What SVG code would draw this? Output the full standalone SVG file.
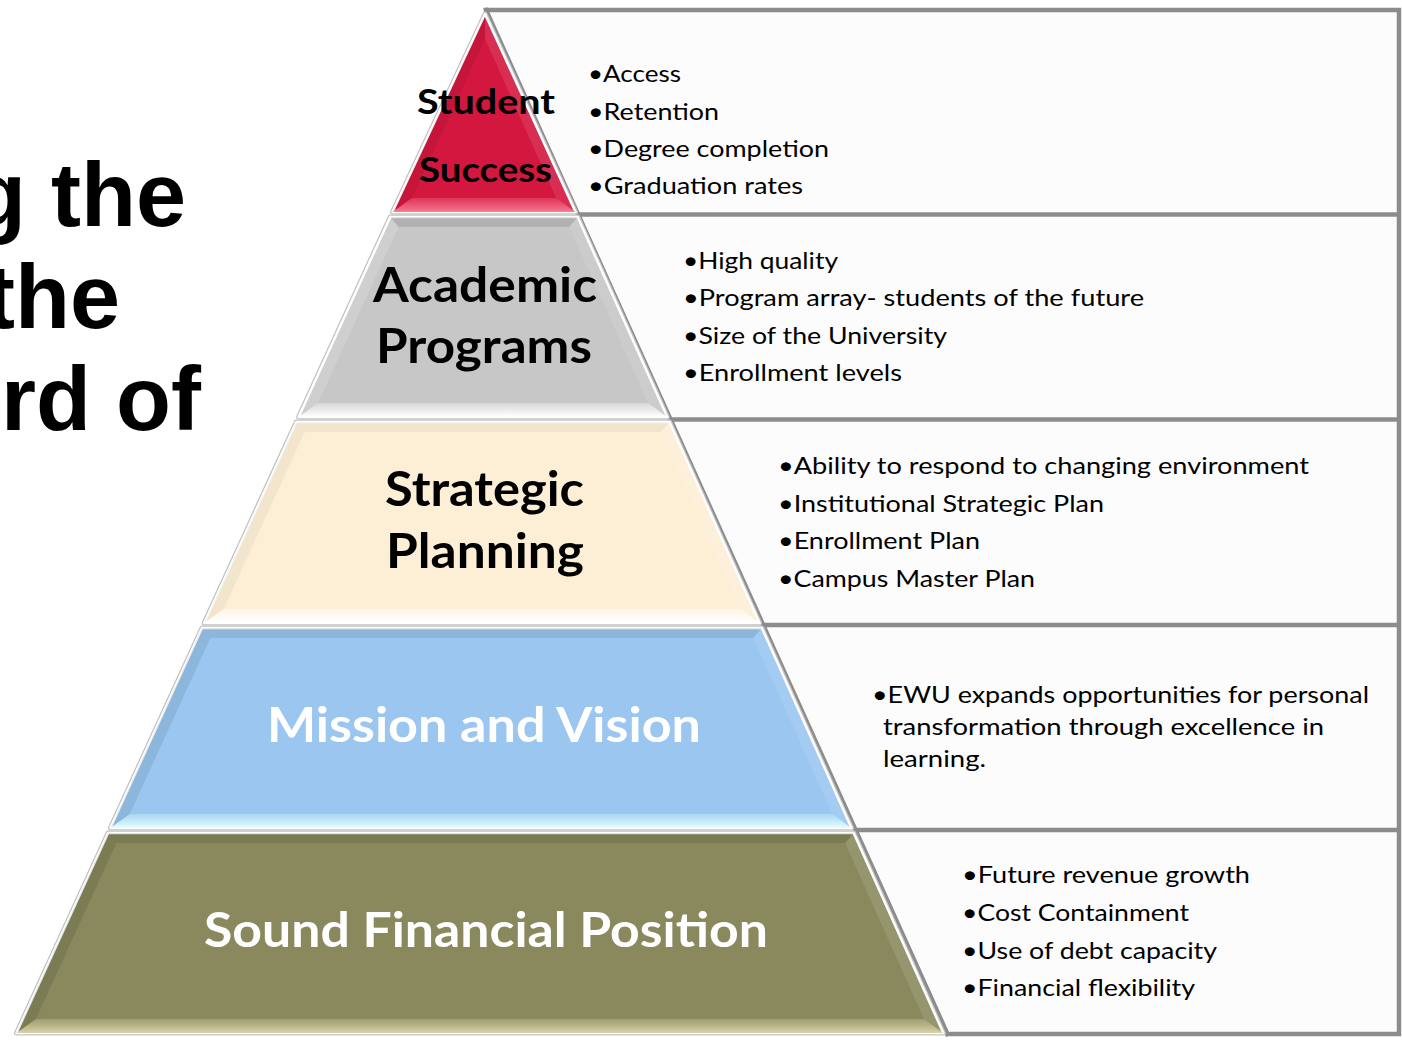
<svg xmlns="http://www.w3.org/2000/svg" width="1402" height="1042" viewBox="0 0 1402 1042">
<defs>
<style>
.edge{fill:none;stroke:#c2c2c2;stroke-width:5;stroke-linejoin:round}
.face{stroke:#ffffff;stroke-width:2.5;stroke-linejoin:round}
.bTop{fill:#000;fill-opacity:0.11}
.bLeft{fill:#000;fill-opacity:0.06}
.bRight{fill:#fff;fill-opacity:0.10}
.line{stroke:#8c8c8c;stroke-width:4.5;fill:none;stroke-linecap:square}
.bullet{font-family:Lato,"Open Sans","Liberation Sans",sans-serif;font-size:24px;fill:#000}
.label{font-family:Lato,"Open Sans","Liberation Sans",sans-serif;font-weight:bold;text-anchor:middle}
.title{font-family:"Liberation Sans",Arial,sans-serif;font-weight:bold;font-size:90px;text-anchor:end;fill:#000}
</style>
<linearGradient id="g1" x1="0" y1="0" x2="0" y2="1"><stop offset="0" stop-color="#f8768f" stop-opacity="0.3"/><stop offset="1" stop-color="#f8768f"/></linearGradient>
<linearGradient id="g2" x1="0" y1="0" x2="0" y2="1"><stop offset="0" stop-color="#ffffff" stop-opacity="0.3"/><stop offset="1" stop-color="#ffffff"/></linearGradient>
<linearGradient id="g3" x1="0" y1="0" x2="0" y2="1"><stop offset="0" stop-color="#ffffff" stop-opacity="0.4"/><stop offset="1" stop-color="#ffffff"/></linearGradient>
<linearGradient id="g4" x1="0" y1="0" x2="0" y2="1"><stop offset="0" stop-color="#d8fbff" stop-opacity="0.3"/><stop offset="1" stop-color="#e2ffff"/></linearGradient>
<linearGradient id="g5" x1="0" y1="0" x2="0" y2="1"><stop offset="0" stop-color="#cfcba0" stop-opacity="0.3"/><stop offset="1" stop-color="#d6d2a6"/></linearGradient>
</defs>
<rect width="1402" height="1042" fill="#ffffff"/>

<g id="title">
<text class="title" x="186" y="226">g the</text>
<text class="title" x="120" y="328">the</text>
<text class="title" x="201" y="430">rd of</text>
</g>

<g id="connectors">
<polygon points="486,9 1400,9 1400,1036 948,1036" fill="#fcfcfc"/>
<path class="line" d="M486,10 H1399 V1034 M578,214.5 H1399 M670.6,419.5 H1399 M763.2,625 H1399 M855.6,830 H1399 M947.5,1034 H1399 M486,10 L947.5,1034"/>
</g>

<g id="tier-student-success">
<polygon class="edge" points="485,14 575.5,212 392.5,212"/>
<polygon class="face" fill="#d3173f" points="485,14 575.5,212 392.5,212"/>
<polygon class="bLeft" points="485,14 392.5,212 411.9,198 485,39"/>
<polygon class="bRight" points="485,14 575.5,212 556.2,198 485,39"/>
<polygon fill="url(#g1)" points="392.5,212 575.5,212 556.2,198 411.9,198"/>
<text class="label" x="486" y="114" font-size="35" fill="#000" textLength="138" lengthAdjust="spacingAndGlyphs">Student</text>
<text class="label" x="485.5" y="182" font-size="35" fill="#000" textLength="133" lengthAdjust="spacingAndGlyphs">Success</text>
</g>

<g id="tier-academic-programs">
<polygon class="edge" points="390.2,217 577.7,217 667.3,417 298.6,417"/>
<polygon class="face" fill="#c7c7c7" points="390.2,217 577.7,217 667.3,417 298.6,417"/>
<polygon class="bTop" points="390.2,217 577.7,217 569.2,227 398.6,227"/>
<polygon class="bLeft" points="390.2,217 298.6,417 318,403 398.6,227" style="fill:#fff;fill-opacity:0.15"/>
<polygon class="bRight" points="577.7,217 667.3,417 648.1,403 569.2,227"/>
<polygon fill="url(#g2)" points="298.6,417 667.3,417 648.1,403 318,403"/>
<text class="label" x="485" y="302" font-size="47" fill="#000" textLength="224" lengthAdjust="spacingAndGlyphs">Academic</text>
<text class="label" x="484" y="363" font-size="47" fill="#000" textLength="216" lengthAdjust="spacingAndGlyphs">Programs</text>
</g>

<g id="tier-strategic-planning">
<polygon class="edge" points="296.3,422 669.6,422 759.6,623 204.2,623"/>
<polygon class="face" fill="#fcefd6" points="296.3,422 669.6,422 759.6,623 204.2,623"/>
<polygon class="bTop" points="296.3,422 669.6,422 661.1,432 304.7,432" style="fill-opacity:0.04"/>
<polygon class="bLeft" points="296.3,422 204.2,623 223.7,609 304.7,432" style="fill-opacity:0.04"/>
<polygon class="bRight" points="669.6,422 759.6,623 740.4,609 661.1,432"/>
<polygon fill="url(#g3)" points="204.2,623 759.6,623 740.4,609 223.7,609"/>
<text class="label" x="484.5" y="506" font-size="47" fill="#000" textLength="199" lengthAdjust="spacingAndGlyphs">Strategic</text>
<text class="label" x="485" y="568" font-size="47" fill="#000" textLength="198" lengthAdjust="spacingAndGlyphs">Planning</text>
</g>

<g id="tier-mission-vision">
<polygon class="edge" points="202,628 761.9,628 851.5,828 110.4,828"/>
<polygon class="face" fill="#9ac6f0" points="202,628 761.9,628 851.5,828 110.4,828"/>
<polygon class="bTop" points="202,628 761.9,628 753.3,638 210.4,638" style="fill-opacity:0.08"/>
<polygon class="bLeft" points="202,628 110.4,828 129.8,814 210.4,638" style="fill-opacity:0.08"/>
<polygon class="bRight" points="761.9,628 851.5,828 832.2,814 753.3,638"/>
<polygon fill="url(#g4)" points="110.4,828 851.5,828 832.2,814 129.8,814"/>
<text class="label" x="484" y="742" font-size="48" fill="#ffffff" textLength="434" lengthAdjust="spacingAndGlyphs">Mission and Vision</text>
</g>

<g id="tier-financial">
<polygon class="edge" points="108.1,833 853.7,833 943.3,1033 16.5,1033"/>
<polygon class="face" fill="#8a895e" points="108.1,833 853.7,833 943.3,1033 16.5,1033"/>
<polygon class="bTop" points="108.1,833 853.7,833 845.2,843 116.5,843"/>
<polygon class="bLeft" points="108.1,833 16.5,1033 35.9,1019 116.5,843" style="fill-opacity:0.1"/>
<polygon class="bRight" points="853.7,833 943.3,1033 924,1019 845.2,843"/>
<polygon fill="url(#g5)" points="16.5,1033 943.3,1033 924,1019 35.9,1019"/>
<text class="label" x="486" y="947" font-size="48" fill="#ffffff" textLength="564" lengthAdjust="spacingAndGlyphs">Sound Financial Position</text>
</g>

<g id="box-student-success">
<text class="bullet" x="588" y="82" textLength="93" lengthAdjust="spacingAndGlyphs">•Access</text>
<text class="bullet" x="588" y="120" textLength="131" lengthAdjust="spacingAndGlyphs">•Retention</text>
<text class="bullet" x="588" y="157" textLength="241" lengthAdjust="spacingAndGlyphs">•Degree completion</text>
<text class="bullet" x="588" y="194" textLength="215" lengthAdjust="spacingAndGlyphs">•Graduation rates</text>
</g>
<g id="box-academic-programs">
<text class="bullet" x="683" y="269" textLength="155" lengthAdjust="spacingAndGlyphs">•High quality</text>
<text class="bullet" x="683" y="306" textLength="461" lengthAdjust="spacingAndGlyphs">•Program array- students of the future</text>
<text class="bullet" x="683" y="344" textLength="264" lengthAdjust="spacingAndGlyphs">•Size of the University</text>
<text class="bullet" x="683" y="381" textLength="219" lengthAdjust="spacingAndGlyphs">•Enrollment levels</text>
</g>
<g id="box-strategic-planning">
<text class="bullet" x="778" y="474" textLength="531" lengthAdjust="spacingAndGlyphs">•Ability to respond to changing environment</text>
<text class="bullet" x="778" y="512" textLength="326" lengthAdjust="spacingAndGlyphs">•Institutional Strategic Plan</text>
<text class="bullet" x="778" y="549" textLength="202" lengthAdjust="spacingAndGlyphs">•Enrollment Plan</text>
<text class="bullet" x="778" y="587" textLength="257" lengthAdjust="spacingAndGlyphs">•Campus Master Plan</text>
</g>
<g id="box-mission-vision">
<text class="bullet" x="872" y="703" textLength="497" lengthAdjust="spacingAndGlyphs">•EWU expands opportunities for personal</text>
<text class="bullet" x="883" y="735" textLength="441" lengthAdjust="spacingAndGlyphs">transformation through excellence in</text>
<text class="bullet" x="883" y="767" textLength="103" lengthAdjust="spacingAndGlyphs">learning.</text>
</g>
<g id="box-financial">
<text class="bullet" x="962" y="883" textLength="288" lengthAdjust="spacingAndGlyphs">•Future revenue growth</text>
<text class="bullet" x="962" y="921" textLength="227" lengthAdjust="spacingAndGlyphs">•Cost Containment</text>
<text class="bullet" x="962" y="959" textLength="255" lengthAdjust="spacingAndGlyphs">•Use of debt capacity</text>
<text class="bullet" x="962" y="996" textLength="233" lengthAdjust="spacingAndGlyphs">•Financial flexibility</text>
</g>
</svg>
